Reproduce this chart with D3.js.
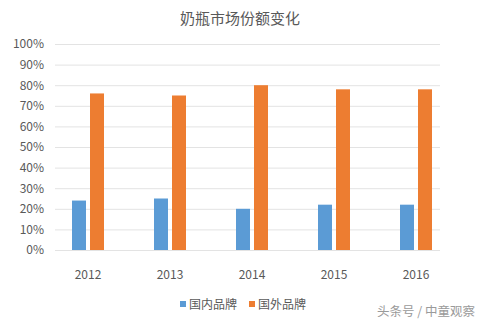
<!DOCTYPE html>
<html><head><meta charset="utf-8">
<script src="https://cdn.jsdelivr.net/npm/d3@7"></script>
<style>body{margin:0;background:#fff}svg{display:block}text{font-family:"Noto Sans CJK SC","Open Sans",sans-serif;}</style>
</head><body>
<svg id="c" width="481" height="324"></svg>
<script>
const title = "奶瓶市场份额变化";
const categories = ["2012","2013","2014","2015","2016"];
const seriesNames = ["国内品牌","国外品牌"];
const domestic = [24,25,20,22,22];
const foreign = [76,75,80,78,78];
const yTicks = [0,10,20,30,40,50,60,70,80,90,100];
const colors = ["#5B9BD5","#ED7D31"];
const watermark = "头条号 / 中童观察";

const svg = d3.select("#c");
const y = d3.scaleLinear().domain([0,100]).range([250,44]);
const x = d3.scaleBand().domain(categories).range([47,457]);
const gridX0 = 55, gridX1 = 440;

svg.append("text").attr("x",240).attr("y",24).attr("text-anchor","middle")
  .attr("font-size",15).attr("fill","#595959").text(title);

const yAxis = d3.axisLeft(y).tickValues(yTicks).tickFormat(d=>d+"%").tickSize(-(gridX1-gridX0)).tickPadding(11);
const ga = svg.append("g").attr("transform",`translate(${gridX0},0)`).call(yAxis);
ga.select(".domain").remove();
ga.selectAll(".tick line").attr("stroke","#e3e3e3").attr("stroke-width",1);
ga.selectAll(".tick text").attr("fill","#595959").attr("font-size",12).attr("font-family","'Open Sans',sans-serif");

const xAxis = d3.axisBottom(x).tickSize(0).tickPadding(14);
const gx = svg.append("g").attr("transform","translate(0,256)").call(xAxis);
gx.select(".domain").remove();
gx.selectAll(".tick text").attr("fill","#595959").attr("font-size",12).attr("font-family","'Open Sans',sans-serif");

const bw = 14;
const series = [domestic, foreign];
const offsets = [-16, 2];
series.forEach((vals,si)=>{
  svg.append("g").selectAll("rect").data(vals).join("rect")
    .attr("x",(d,i)=>x(categories[i])+x.bandwidth()/2+offsets[si])
    .attr("width",bw)
    .attr("y",d=>y(d))
    .attr("height",d=>y(0)-y(d))
    .attr("fill",colors[si]);
});

const legendX = [180, 249];
seriesNames.forEach((n,i)=>{
  svg.append("rect").attr("x",legendX[i]).attr("y",301).attr("width",6).attr("height",6).attr("fill",colors[i]);
  svg.append("text").attr("x",legendX[i]+9).attr("y",308.5).attr("font-size",12).attr("fill","#595959").text(n);
});

svg.append("text").attr("x",377).attr("y",316).attr("font-size",12.5).attr("fill","#9a9a9a").text(watermark);
</script>
</body></html>
